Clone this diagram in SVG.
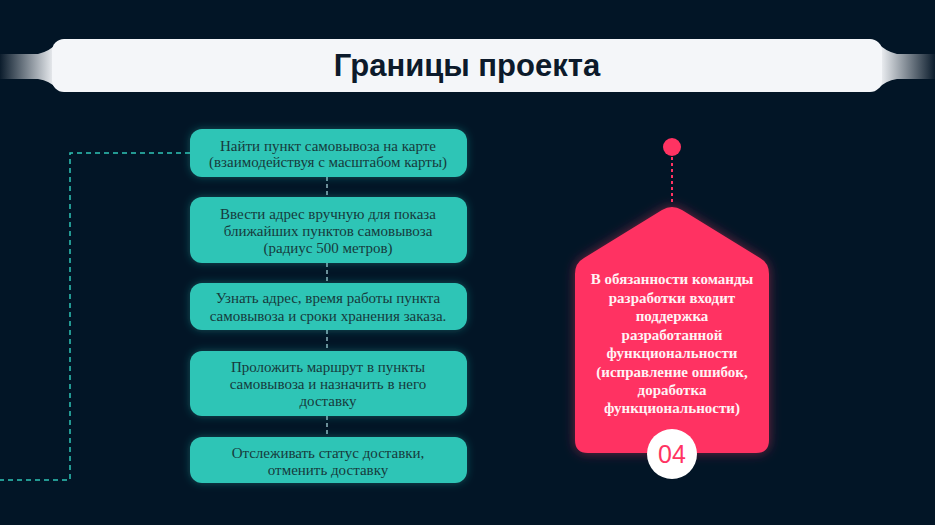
<svg xmlns="http://www.w3.org/2000/svg" width="935" height="525" viewBox="0 0 935 525">
<defs>
<style>
.box{fill:#2fc5b6;filter:url(#tglow)}
.bt{font-family:"Liberation Serif","Times New Roman",serif;font-size:15px;fill:#163a3c;text-anchor:middle}
.pt{font-family:"Liberation Serif","Times New Roman",serif;font-size:15px;font-weight:bold;fill:#fff3f5;text-anchor:middle}
.dash{fill:none;stroke:#2fc5b6;stroke-width:1.5;stroke-dasharray:5 4}
.vdash{fill:none;stroke:#8fb8c0;stroke-width:1.5;stroke-dasharray:4 3}
</style>
<filter id="tglow" x="-20%" y="-40%" width="140%" height="180%">
<feDropShadow dx="0" dy="0" stdDeviation="4" flood-color="#2fc5b6" flood-opacity="0.35"/>
</filter>
<filter id="pglow" x="-30%" y="-30%" width="160%" height="160%">
<feDropShadow dx="0" dy="0" stdDeviation="6" flood-color="#ff3362" flood-opacity="0.45"/>
</filter>
<linearGradient id="lrib" x1="0" y1="0" x2="1" y2="0">
<stop offset="0" stop-color="#0b1c2c"/>
<stop offset="1" stop-color="#f4f6f9"/>
</linearGradient>
<linearGradient id="rrib" x1="1" y1="0" x2="0" y2="0">
<stop offset="0" stop-color="#0b1c2c"/>
<stop offset="1" stop-color="#f4f6f9"/>
</linearGradient>
</defs>
<rect width="935" height="525" fill="#021526"/>

<g id="title">
<path d="M0,54 L38,54 Q50,51 56,44 L56,88 Q50,81 38,79 L0,79 Z" fill="url(#lrib)"/>
<path d="M935,54 L897,54 Q885,51 879,44 L879,88 Q885,81 897,79 L935,79 Z" fill="url(#rrib)"/>
<rect x="52" y="39" width="830" height="53" rx="12" fill="#f4f6f9"/>
<text x="467" y="76" font-family="Liberation Sans,Arial,sans-serif" font-size="31" font-weight="bold" fill="#0c1a2b" text-anchor="middle">Границы проекта</text>
</g>

<g id="connectors">
<path class="dash" d="M190,153 H70 V480 H0"/>
<line class="vdash" x1="327" y1="177" x2="327" y2="197"/>
<line class="vdash" x1="327" y1="263" x2="327" y2="283"/>
<line class="vdash" x1="327" y1="330" x2="327" y2="351"/>
<line class="vdash" x1="327" y1="416" x2="327" y2="437"/>
<line x1="672" y1="157" x2="672" y2="203" stroke="#ff3362" stroke-width="2" stroke-dasharray="3 3"/>
</g>

<g id="box1">
<rect class="box" x="190" y="129" width="277" height="48" rx="12"/>
<text class="bt" x="328" y="151">Найти пункт самовывоза на карте</text>
<text class="bt" x="328" y="167">(взаимодействуя с масштабом карты)</text>
</g>
<g id="box2">
<rect class="box" x="190" y="197" width="277" height="66" rx="12"/>
<text class="bt" x="328" y="219">Ввести адрес вручную для показа</text>
<text class="bt" x="328" y="236">ближайших пунктов самовывоза</text>
<text class="bt" x="328" y="253">(радиус 500 метров)</text>
</g>
<g id="box3">
<rect class="box" x="190" y="283" width="277" height="47" rx="12"/>
<text class="bt" x="328" y="303">Узнать адрес, время работы пункта</text>
<text class="bt" x="328" y="321">самовывоза и сроки хранения заказа.</text>
</g>
<g id="box4">
<rect class="box" x="190" y="351" width="277" height="65" rx="12"/>
<text class="bt" x="328" y="372">Проложить маршрут в пункты</text>
<text class="bt" x="328" y="389">самовывоза и назначить в него</text>
<text class="bt" x="328" y="406">доставку</text>
</g>
<g id="box5">
<rect class="box" x="190" y="437" width="277" height="46" rx="12"/>
<text class="bt" x="328" y="458">Отслеживать статус доставки,</text>
<text class="bt" x="328" y="475">отменить доставку</text>
</g>

<g id="pinkcard">
<circle cx="672" cy="147" r="9" fill="#ff3362"/>
<path d="M575,274 L575,440 Q575,453 588,453 L756,453 Q769,453 769,440 L769,274 Q769,263 760,258 L682,210 Q672,204 662,210 L584,258 Q575,263 575,274 Z" fill="#ff3362" filter="url(#pglow)"/>
<text class="pt" x="672" y="284">В обязанности команды</text>
<text class="pt" x="672" y="303">разработки входит</text>
<text class="pt" x="672" y="321">поддержка</text>
<text class="pt" x="672" y="340">разработанной</text>
<text class="pt" x="672" y="358">функциональности</text>
<text class="pt" x="672" y="377">(исправление ошибок,</text>
<text class="pt" x="672" y="395">доработка</text>
<text class="pt" x="672" y="413">функциональности)</text>
<circle cx="672" cy="454" r="25" fill="#ffffff"/>
<text x="672" y="463" font-family="Liberation Sans,Arial,sans-serif" font-size="25" fill="#ff3362" text-anchor="middle">04</text>
</g>
</svg>
